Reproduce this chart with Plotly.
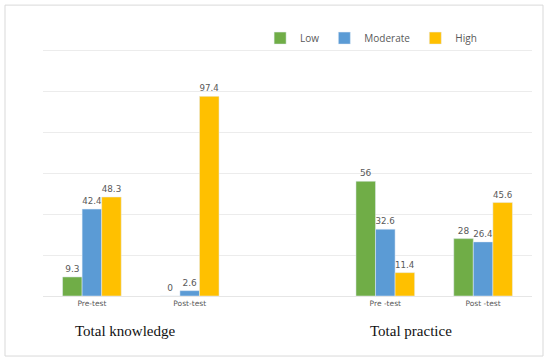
import plotly.graph_objects as go

categories = ["Pre-test", "Post-test", " ", "Pre -test", "Post -test"]
low = [9.3, 0, None, 56, 28]
moderate = [42.4, 2.6, None, 32.6, 26.4]
high = [48.3, 97.4, None, 11.4, 45.6]
series_names = ["Low", "Moderate", "High"]
series_colors = ["#70AD47", "#5B9BD5", "#FFC000"]
group_labels = ["Total knowledge", "Total practice"]

fig = go.Figure()
for name, vals, col in zip(series_names, [low, moderate, high], series_colors):
    fig.add_trace(go.Bar(
        x=categories, y=vals, name=name, marker_color=col,
        text=[("" if v is None else f"{v:g}") for v in vals],
        textposition="outside", cliponaxis=False,
        textfont=dict(family="DejaVu Sans", size=9, color="#595959"),
    ))

fig.update_layout(
    width=550, height=364,
    margin=dict(l=43, r=18, t=48, b=68),
    paper_bgcolor="white", plot_bgcolor="white",
    barmode="group", bargap=0.4, bargroupgap=0,
    showlegend=True,
    legend=dict(orientation="h", x=0.444, xanchor="left", y=1.040, yanchor="middle",
                font=dict(family="Open Sans", size=10, color="#595959"),
                itemwidth=30, bgcolor="rgba(0,0,0,0)"),
    xaxis=dict(type="category", showgrid=False, showline=True, linecolor="#e6e6e6",
               ticks="", tickfont=dict(family="DejaVu Sans", size=7.5, color="#595959"),
               range=[-0.5, 4.5]),
    yaxis=dict(range=[0, 121], tickvals=[20, 40, 60, 80, 100, 120], showticklabels=False,
               showgrid=True, gridcolor="#ececec", gridwidth=1, zeroline=False,
               showline=False, ticks=""),
    shapes=[dict(type="rect", xref="paper", yref="paper",
                 x0=-0.0777, x1=1.0225, y0=-0.242, y1=1.173,
                 line=dict(color="#d9d9d9", width=1), fillcolor="rgba(0,0,0,0)", layer="below")],
)

for text, xpos in zip(group_labels, [0.168, 0.753]):
    fig.add_annotation(text=text, xref="paper", yref="paper", x=xpos, y=-0.141,
                       showarrow=False, xanchor="center", yanchor="middle",
                       font=dict(family="Liberation Serif", size=15, color="#111111"))

fig.write_html("out.html", config={"displayModeBar": False},
               post_script="document.body.style.margin='0';")
